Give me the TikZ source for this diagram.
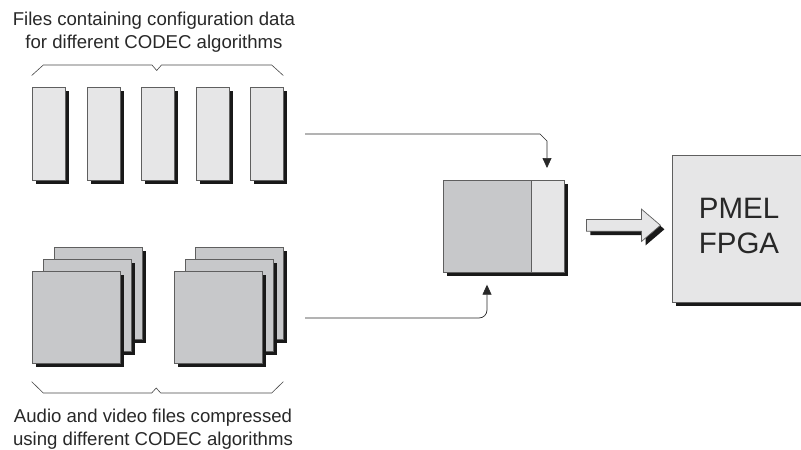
\documentclass[tikz,border=0pt]{standalone}
\usepackage{fontspec}
\setmainfont{Liberation Sans}
\usetikzlibrary{shadows,arrows.meta,shapes.arrows}
\definecolor{lightfill}{RGB}{230,230,231}
\definecolor{midfill}{RGB}{199,200,202}
\definecolor{edge}{RGB}{95,95,95}
\definecolor{ink}{RGB}{40,40,40}
\definecolor{shade}{RGB}{25,25,25}
\begin{document}
\begin{tikzpicture}[x=1pt,y=-1pt,
  shadowed/.style={drop shadow={shadow xshift=4pt,shadow yshift=-4pt,fill=shade,opacity=1}},
  filebox/.style={draw=edge,line width=0.7pt,fill=lightfill,shadowed,inner sep=0pt,anchor=north west,minimum width=33pt,minimum height=93pt},
  mediabox/.style={draw=edge,line width=0.7pt,fill=midfill,shadowed,inner sep=0pt,anchor=north west,minimum width=88pt,minimum height=92pt},
  caption/.style={text=ink,align=center,font=\fontsize{18.6}{22.8}\selectfont},
  brace/.style={draw=ink!85,line width=0.6pt},
  conn/.style={draw=ink,line width=0.7pt},
  tip/.style={-{Triangle[length=10pt,width=9pt]}}
]
\useasboundingbox (0,0) rectangle (801,450);
\fill[white] (0,0) rectangle (801,450);

% captions and braces
\node[caption] (cfgcap) at (154,32) {Files containing configuration data\\for different CODEC algorithms};
\node[caption] (avcap) at (153,429) {Audio and video files compressed\\using different CODEC algorithms};
\draw[brace] (31.7,75.5) -- (43.3,65) -- (152,65) -- (156.7,70.5) -- (161.5,65) -- (271.7,65) -- (283.3,75.5);
\draw[brace] (31.7,381.7) -- (43.3,393) -- (151.7,393) -- (156.2,388) -- (160.7,393) -- (271.7,393) -- (283.3,381.7);

% configuration files
\foreach \i/\x in {1/32,2/86.5,3/141,4/195.5,5/250}
  \node[filebox] (cfg\i) at (\x,87) {};

% compressed media stacks
\node[mediabox] (avA3) at (54,247) {};
\node[mediabox] (avA2) at (43,259) {};
\node[mediabox] (avA1) at (32,271) {};
\node[mediabox] (avB3) at (195,247) {};
\node[mediabox] (avB2) at (184.5,259) {};
\node[mediabox] (avB1) at (174,271) {};

% buffer
\node[draw=edge,line width=0.7pt,fill=lightfill,shadowed,inner sep=0pt,anchor=north west,minimum width=121pt,minimum height=92pt] (buf) at (443,180) {};
\node[draw=edge,line width=0.7pt,fill=midfill,inner sep=0pt,anchor=north west,minimum width=88pt,minimum height=92pt] (bufcodec) at (443,180) {};

% FPGA
\node[draw=edge,line width=0.7pt,fill=lightfill,shadowed,inner sep=0pt,anchor=north west,minimum width=150pt,minimum height=146.5pt] (fpga) at (672,155) {};
\node[text=ink,align=center,font=\fontsize{29.5}{35}\selectfont] (fpgatext) at (739,225.5) {PMEL\\FPGA};

% wide arrow
\node[single arrow,draw=edge,line width=0.7pt,fill=lightfill,shadowed,inner xsep=0pt,inner ysep=5.5pt,minimum height=74pt,single arrow head extend=10.3pt,single arrow tip angle=81,single arrow head indent=0pt] (feed) at (620,225.3) {};

% connectors
\coordinate (cfgout) at (305,134);
\coordinate (cfgbend) at (547,141);
\path (buf.north west) ++(104,-12) coordinate (bufin);
\draw[conn,tip] (cfgout) -- (540,134) -- (cfgbend) -- (bufin);
\coordinate (avout) at (305,318);
\path (buf.south west) ++(44,12) coordinate (bufbot);
\draw[conn,tip,rounded corners=8pt] (avout) -| (bufbot);
\end{tikzpicture}
\end{document}
